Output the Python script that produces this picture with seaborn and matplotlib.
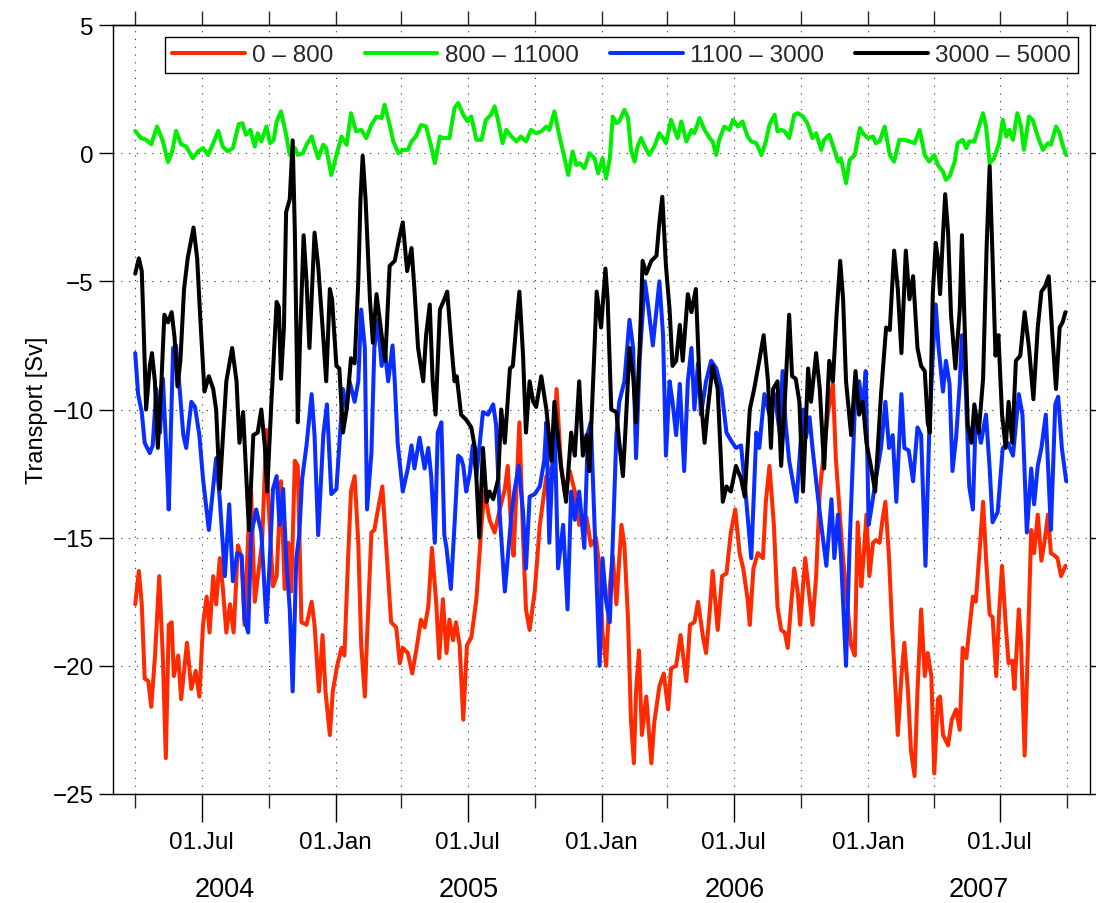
import numpy as np
import pandas as pd
import matplotlib
matplotlib.use("Agg")
import matplotlib.pyplot as plt
import matplotlib.dates as mdates
import seaborn as sns

# -----------------------------
# Data (days since 01.Apr.2004, transport in Sv)
# -----------------------------
start = pd.Timestamp("2004-04-01")

red_day = [0, 5, 9, 13, 18, 22, 27, 33, 38, 42, 46, 50, 53, 59, 63, 71, 77, 83, 88, 93,
           98, 102, 107, 111, 116, 120, 125, 130, 135, 141, 146, 150, 155, 159, 164, 170, 174, 180, 182, 189,
           194, 200, 205, 210, 214, 219, 223, 228, 235, 242, 246, 252, 257, 261, 267, 271, 277, 283, 287, 292,
           296, 301, 306, 310, 315, 318, 324, 328, 333, 339, 344, 351, 358, 363, 367, 374, 380, 386, 392, 397,
           402, 407, 413, 417, 422, 427, 431, 436, 440, 445, 450, 455, 461, 468, 475, 479, 486, 493, 500, 507,
           511, 516, 519, 527, 532, 536, 541, 548, 555, 564, 573, 578, 584, 589, 596, 603, 609, 619, 625, 632,
           637, 641, 646, 651, 655, 660, 667, 671, 676, 680, 684, 687, 691, 695, 701, 708, 712, 719, 725, 731,
           735, 742, 748, 756, 761, 767, 772, 779, 783, 788, 792, 799, 805, 811, 817, 823, 829, 834, 840, 843,
           848, 854, 861, 865, 870, 876, 881, 886, 891, 895, 900, 904, 909, 912, 916, 919, 924, 929, 934, 939,
           950, 957, 961, 970, 982, 987, 991, 996, 999, 1003, 1007, 1012, 1016, 1021, 1025, 1029, 1034, 1038, 1043, 1046,
           1051, 1055, 1060, 1064, 1069, 1073, 1078, 1083, 1087, 1092, 1096, 1101, 1104, 1108, 1115, 1120, 1126, 1131, 1135, 1140,
           1144, 1149, 1153, 1158, 1163, 1167, 1172, 1176, 1181, 1185, 1189, 1194, 1198, 1203, 1206, 1212, 1215, 1220, 1224, 1229,
           1233, 1238, 1243, 1247, 1252, 1256, 1261, 1265, 1270, 1276]
red_val = [-17.6, -16.3, -17.6, -20.5, -20.6, -21.6, -19.7, -16.5, -19.7, -23.6, -18.4, -18.3, -20.4, -19.6, -21.3, -19.1, -20.9, -20.2, -21.2, -18.4,
           -17.3, -18.7, -16.5, -17.6, -15.8, -16.9, -18.7, -17.6, -18.7, -15.3, -15.8, -18.4, -14.9, -13.2, -17.5, -16.1, -15.2, -10.8, -13.2, -16.9,
           -16.5, -12.8, -17.0, -15.2, -17.1, -12.0, -12.2, -18.3, -18.4, -17.5, -18.4, -21.0, -18.8, -21.0, -22.7, -21.0, -20.0, -19.3, -19.6, -15.8,
           -13.2, -12.6, -15.2, -19.2, -21.2, -18.9, -14.8, -14.7, -13.9, -13.0, -15.2, -18.3, -18.5, -19.9, -19.3, -19.5, -20.3, -19.3, -18.2, -18.5,
           -17.7, -15.4, -17.6, -19.7, -17.4, -19.5, -18.2, -19.0, -18.3, -19.2, -22.1, -19.2, -18.9, -17.4, -14.5, -13.2, -14.3, -14.8, -13.9, -13.1,
           -12.2, -14.8, -15.7, -10.5, -15.0, -17.8, -18.6, -17.1, -14.5, -12.6, -12.2, -9.2, -12.2, -13.2, -12.4, -13.2, -14.5, -14.2, -15.3, -15.0,
           -16.2, -18.7, -20.0, -16.9, -15.7, -17.6, -14.5, -15.3, -18.2, -22.1, -23.8, -21.0, -19.4, -22.7, -21.2, -23.8, -22.2, -20.8, -20.3, -21.7,
           -20.1, -20.0, -18.8, -20.6, -18.4, -18.3, -17.5, -18.9, -19.5, -17.9, -16.3, -18.6, -16.5, -16.4, -14.8, -13.9, -15.6, -16.2, -17.4, -18.4,
           -16.2, -15.6, -15.8, -13.6, -12.2, -14.5, -17.7, -18.6, -18.7, -19.3, -17.5, -16.2, -17.2, -18.4, -16.9, -15.8, -17.1, -18.4, -16.5, -13.2,
           -10.2, -9.0, -11.9, -15.5, -19.2, -19.6, -14.4, -16.9, -15.8, -14.1, -16.5, -15.2, -15.1, -15.2, -14.3, -13.6, -15.8, -18.4, -21.0, -22.7,
           -20.4, -19.1, -21.0, -23.3, -24.3, -21.0, -17.8, -20.4, -19.5, -20.4, -24.2, -21.3, -21.2, -22.7, -23.1, -22.1, -21.7, -22.5, -19.3, -19.7,
           -18.6, -17.3, -17.5, -15.6, -13.6, -15.8, -18.0, -18.1, -20.4, -17.9, -16.1, -18.4, -19.9, -19.8, -20.9, -17.8, -19.1, -23.5, -19.7, -14.7,
           -15.6, -14.1, -15.9, -15.2, -14.1, -15.6, -15.7, -15.8, -16.5, -16.1]

green_day = [0, 8, 15, 22, 30, 38, 45, 51, 56, 63, 70, 79, 86, 93, 100, 107, 114, 120, 127, 134,
             142, 147, 152, 158, 164, 168, 173, 180, 185, 190, 194, 200, 207, 212, 219, 223, 230, 235, 242, 246,
             251, 258, 262, 269, 276, 283, 290, 296, 303, 310, 317, 324, 331, 338, 342, 349, 354, 361, 367, 374,
             379, 385, 392, 399, 406, 411, 418, 422, 431, 438, 443, 450, 456, 461, 468, 475, 481, 488, 493, 497,
             504, 509, 516, 523, 529, 536, 543, 550, 557, 564, 568, 575, 582, 589, 594, 600, 605, 610, 616, 623,
             630, 635, 641, 646, 651, 655, 660, 664, 671, 676, 680, 685, 689, 694, 699, 705, 712, 719, 724, 728,
             735, 740, 744, 749, 756, 763, 767, 774, 781, 788, 792, 797, 801, 808, 815, 820, 827, 833, 840, 845,
             852, 859, 865, 870, 877, 881, 886, 891, 897, 904, 909, 916, 922, 929, 934, 941, 945, 952, 959, 964,
             968, 975, 980, 987, 994, 998, 1005, 1012, 1016, 1021, 1028, 1035, 1041, 1048, 1055, 1062, 1069, 1076, 1083, 1089,
             1096, 1101, 1108, 1112, 1117, 1124, 1128, 1135, 1140, 1144, 1151, 1158, 1163, 1167, 1172, 1178, 1185, 1190, 1195, 1199,
             1204, 1210, 1215, 1219, 1226, 1231, 1238, 1245, 1252, 1256, 1263, 1268, 1272, 1277]
green_val = [0.87, 0.59, 0.52, 0.35, 1.04, 0.46, -0.35, 0.10, 0.87, 0.35, 0.26, -0.20, 0.07, 0.20, -0.07, 0.39, 0.87, 0.26, 0.07, 0.20,
             1.13, 1.17, 0.72, 0.91, 0.26, 0.78, 0.46, 1.04, 0.39, 0.52, 1.24, 1.63, 0.72, -0.07, 0.20, -0.07, 0.00, 0.33, 0.65, 0.26,
             -0.20, 0.33, 0.20, -0.85, -0.07, 0.65, 0.33, 1.56, 0.85, 0.91, 0.59, 1.11, 1.43, 1.37, 1.89, 1.11, 0.46, 0.00, 0.13, 0.13,
             0.46, 0.65, 1.10, 1.04, 0.26, -0.39, 0.65, 0.59, 0.59, 1.76, 1.96, 1.50, 1.24, 1.43, 0.52, 0.52, 1.30, 1.50, 1.83, 1.37,
             0.39, 0.91, 0.65, 0.46, 0.65, 0.46, 0.91, 0.78, 0.85, 1.04, 0.91, 1.63, 0.65, -0.20, -0.85, 0.07, -0.46, -0.39, -0.59, 0.00,
             -0.20, -0.78, -0.20, -0.98, -0.20, 1.43, 1.17, 1.24, 1.69, 1.37, 0.13, -0.33, 0.26, 0.59, 0.26, -0.07, 0.26, 0.78, 0.59, 0.39,
             1.30, 0.91, 0.59, 1.24, 0.46, 0.91, 0.78, 1.37, 0.91, 0.59, 0.46, -0.07, 0.52, 1.04, 0.91, 1.30, 1.04, 1.24, 0.65, 0.46,
             0.39, -0.07, 0.46, 1.11, 1.50, 0.85, 0.91, 0.85, 0.59, 1.50, 1.56, 1.43, 1.17, 0.59, 0.78, 0.13, 0.52, 0.72, 0.13, -0.33,
             -0.20, -1.17, -0.26, -0.07, 0.98, 0.78, 0.59, 0.65, 0.39, 0.46, 1.04, -0.07, -0.33, 0.52, 0.52, 0.46, 0.39, 0.91, -0.07, -0.33,
             -0.07, -0.46, -0.72, -1.04, -0.91, -0.33, 0.39, 0.52, 0.20, 0.46, 0.46, 1.11, 1.56, 1.04, -0.39, -0.20, 0.39, 1.30, 0.65, 0.91,
             0.52, 1.56, 1.04, 0.13, 1.43, 1.30, 0.65, 0.13, 0.39, 0.33, 1.04, 0.78, 0.33, -0.07]

blue_day = [0, 4, 9, 13, 20, 24, 29, 34, 38, 43, 46, 52, 56, 61, 66, 70, 77, 82, 88, 93,
            101, 107, 111, 116, 123, 129, 134, 140, 146, 150, 155, 159, 166, 173, 180, 184, 189, 194, 198, 203,
            207, 212, 216, 221, 225, 229, 235, 242, 246, 251, 258, 263, 269, 276, 285, 290, 294, 301, 306, 310,
            315, 318, 324, 328, 333, 338, 342, 347, 353, 356, 360, 367, 374, 379, 383, 390, 397, 402, 406, 411,
            415, 420, 424, 427, 433, 438, 443, 447, 450, 454, 459, 463, 468, 477, 484, 491, 495, 500, 507, 511,
            516, 520, 526, 532, 536, 541, 548, 555, 561, 564, 568, 575, 580, 587, 593, 598, 603, 609, 616, 621,
            625, 630, 637, 641, 646, 651, 655, 660, 664, 671, 678, 683, 687, 692, 699, 703, 710, 715, 719, 724,
            728, 733, 737, 742, 747, 753, 758, 763, 767, 772, 776, 783, 790, 797, 804, 811, 817, 824, 831, 838,
            845, 852, 856, 863, 870, 877, 884, 888, 892, 897, 907, 916, 920, 925, 929, 936, 941, 948, 955, 959,
            964, 968, 975, 980, 987, 993, 998, 1002, 1006, 1009, 1016, 1023, 1029, 1034, 1039, 1044, 1051, 1055, 1061, 1067,
            1073, 1078, 1084, 1089, 1094, 1098, 1102, 1108, 1112, 1117, 1121, 1126, 1131, 1134, 1139, 1144, 1149, 1153, 1160, 1167,
            1172, 1176, 1183, 1190, 1197, 1204, 1212, 1217, 1223, 1229, 1233, 1238, 1243, 1249, 1256, 1262, 1266, 1271, 1277]
blue_val = [-7.8, -9.4, -10.1, -11.3, -11.7, -11.4, -9.2, -10.9, -8.8, -11.8, -13.9, -7.6, -7.5, -9.2, -11.0, -11.5, -9.7, -9.9, -11.0, -12.7,
            -14.7, -13.0, -11.9, -13.5, -16.5, -13.7, -16.7, -15.6, -15.7, -18.2, -18.7, -14.9, -13.9, -14.8, -18.3, -16.2, -13.1, -12.6, -14.5, -13.1,
            -15.8, -17.8, -21.0, -15.8, -14.9, -12.7, -11.4, -9.4, -11.0, -14.9, -11.0, -9.8, -13.3, -13.1, -9.2, -10.0, -8.9, -9.7, -8.9, -6.1,
            -7.6, -13.9, -11.7, -7.6, -6.5, -8.3, -7.6, -8.9, -7.5, -8.9, -11.3, -13.2, -12.3, -11.4, -12.3, -11.1, -12.3, -11.5, -12.6, -15.2,
            -10.9, -10.5, -14.9, -15.4, -17.0, -14.5, -11.8, -11.9, -12.2, -13.2, -12.5, -11.4, -12.6, -10.1, -10.2, -9.8, -10.6, -14.1, -17.1, -15.8,
            -14.1, -13.2, -12.2, -14.0, -16.2, -13.4, -13.3, -13.0, -12.0, -10.5, -15.2, -10.2, -16.2, -14.5, -17.8, -13.2, -14.3, -13.2, -15.4, -10.9,
            -10.5, -14.5, -20.0, -15.8, -17.5, -18.3, -15.2, -11.0, -9.7, -8.9, -6.5, -7.6, -11.9, -8.0, -5.0, -5.8, -7.5, -6.1, -5.0, -7.1,
            -11.8, -8.9, -9.7, -11.0, -9.0, -12.4, -8.9, -7.6, -10.0, -8.2, -10.2, -8.9, -8.1, -8.4, -9.2, -10.9, -11.2, -11.5, -11.4, -13.5,
            -15.8, -10.9, -11.5, -9.4, -10.2, -9.4, -10.9, -8.5, -10.5, -12.0, -13.6, -10.0, -11.1, -10.3, -11.5, -13.3, -14.5, -16.1, -13.5, -15.8,
            -14.1, -15.7, -20.0, -15.2, -10.0, -8.9, -10.0, -8.5, -14.5, -14.0, -12.7, -11.5, -9.7, -11.5, -11.0, -13.6, -9.4, -11.5, -11.6, -12.8,
            -10.7, -11.0, -16.1, -11.0, -7.9, -5.9, -7.6, -9.3, -8.1, -9.0, -12.4, -11.1, -9.0, -7.1, -9.0, -13.0, -13.9, -10.2, -11.3, -10.2,
            -12.3, -14.4, -14.0, -11.5, -11.3, -11.8, -9.4, -10.2, -14.8, -12.3, -13.7, -12.2, -11.5, -10.2, -14.7, -9.8, -9.5, -11.5, -12.8]

black_day = [0, 5, 9, 11, 15, 20, 23, 27, 31, 36, 40, 45, 50, 54, 58, 62, 67, 72, 80, 85,
             89, 95, 101, 107, 111, 116, 125, 133, 139, 143, 148, 156, 162, 168, 173, 178, 181, 187, 194, 197,
             200, 204, 207, 212, 216, 219, 223, 226, 231, 235, 239, 246, 251, 258, 262, 267, 270, 276, 280, 285,
             290, 296, 301, 306, 309, 312, 316, 322, 326, 331, 338, 343, 349, 356, 363, 367, 373, 379, 383, 388,
             395, 399, 404, 408, 412, 418, 424, 428, 434, 438, 441, 447, 454, 461, 466, 472, 477, 482, 486, 491,
             498, 502, 507, 514, 518, 523, 527, 532, 536, 541, 546, 550, 557, 564, 571, 575, 580, 584, 591, 598,
             603, 609, 614, 619, 623, 630, 633, 639, 645, 648, 653, 660, 664, 669, 673, 678, 683, 687, 692, 696,
             701, 708, 715, 719, 723, 728, 733, 737, 742, 747, 751, 758, 763, 769, 774, 781, 785, 792, 799, 806,
             811, 817, 824, 831, 836, 843, 849, 856, 862, 868, 872, 875, 881, 886, 891, 897, 901, 906, 911, 916,
             923, 927, 934, 939, 945, 952, 957, 962, 967, 971, 975, 982, 988, 993, 998, 1003, 1009, 1015, 1023, 1030,
             1035, 1041, 1046, 1051, 1057, 1062, 1067, 1073, 1078, 1083, 1087, 1090, 1094, 1098, 1101, 1104, 1108, 1111, 1115, 1119,
             1125, 1131, 1134, 1137, 1142, 1147, 1151, 1157, 1163, 1168, 1172, 1176, 1180, 1184, 1189, 1194, 1198, 1203, 1208, 1214,
             1220, 1226, 1232, 1238, 1243, 1248, 1253, 1258, 1263, 1268, 1272, 1276]
black_val = [-4.7, -4.1, -4.6, -6.3, -10.0, -8.3, -7.8, -8.9, -11.5, -8.9, -6.3, -6.6, -6.2, -7.2, -9.1, -8.1, -5.3, -4.1, -2.9, -4.1,
             -6.3, -9.3, -8.7, -9.2, -10.0, -13.1, -8.9, -7.6, -8.9, -11.3, -10.1, -14.7, -11.0, -10.9, -10.0, -11.5, -13.2, -9.6, -5.8, -6.0,
             -8.8, -6.8, -2.3, -1.8, 0.5, -3.1, -10.5, -7.4, -3.2, -5.0, -7.6, -3.1, -4.4, -7.2, -8.9, -5.3, -5.7, -8.3, -8.4, -10.9,
             -10.0, -8.0, -8.2, -5.0, -1.8, -0.1, -1.8, -5.7, -7.4, -5.5, -7.1, -8.1, -4.4, -4.2, -3.2, -2.7, -4.6, -3.7, -5.3, -7.6,
             -8.9, -7.1, -5.9, -8.9, -10.2, -6.1, -5.7, -5.4, -7.6, -8.9, -8.7, -10.2, -10.4, -10.7, -11.5, -15.0, -11.5, -13.6, -13.2, -13.5,
             -12.7, -10.0, -11.3, -8.4, -8.3, -6.6, -5.4, -7.9, -10.9, -8.9, -9.7, -9.9, -8.7, -10.0, -12.0, -9.7, -11.1, -12.2, -13.6, -10.9,
             -11.8, -8.9, -11.8, -11.0, -12.4, -7.6, -5.4, -6.8, -4.5, -5.7, -10.0, -10.1, -11.3, -12.6, -10.5, -7.6, -8.7, -10.5, -7.6, -4.2,
             -4.7, -4.2, -4.0, -2.7, -1.7, -4.4, -6.1, -8.3, -8.1, -6.7, -8.1, -5.5, -6.2, -5.3, -8.9, -11.3, -10.1, -8.3, -9.2, -13.6,
             -13.0, -13.2, -12.2, -12.7, -13.4, -10.0, -9.2, -8.1, -7.1, -8.9, -11.5, -9.2, -8.9, -12.2, -9.7, -6.3, -8.7, -8.8, -9.7, -13.2,
             -8.4, -9.7, -7.8, -9.2, -12.3, -8.1, -8.9, -6.3, -4.2, -5.7, -8.9, -11.0, -8.5, -10.2, -9.7, -11.3, -12.2, -13.2, -9.4, -6.8,
             -6.9, -3.8, -5.3, -7.8, -3.8, -5.7, -4.8, -7.6, -8.3, -8.5, -10.5, -10.9, -5.5, -3.5, -4.1, -5.5, -3.2, -1.6, -3.1, -6.3,
             -8.4, -6.1, -3.2, -6.1, -10.6, -11.3, -9.8, -10.9, -8.8, -3.5, -0.5, -4.1, -7.9, -7.1, -10.2, -11.5, -9.7, -11.3, -8.1, -7.9,
             -6.2, -7.6, -9.6, -6.8, -5.4, -5.2, -4.8, -7.1, -9.2, -6.8, -6.6, -6.2]

labels = ["0 \u2013 800", "800 \u2013 11000", "1100 \u2013 3000", "3000 \u2013 5000"]
colors = ["#ff2a00", "#00ee00", "#0a2eff", "#000000"]
years = [2004, 2005, 2006, 2007]

x_start = pd.Timestamp("2004-03-02")
x_end = pd.Timestamp("2007-11-01")

# -----------------------------
# Figure
# -----------------------------
sns.set_theme(style="white")
plt.rcParams["font.family"] = ["Liberation Sans", "DejaVu Sans"]

fig = plt.figure(figsize=(10.96, 9.04), dpi=100)
ax = fig.add_axes([0.1034, 0.1206, 0.8907, 0.8506])

series = [(red_day, red_val), (green_day, green_val), (blue_day, blue_val), (black_day, black_val)]
for (d, v), lab, col in zip(series, labels, colors):
    dates = start + pd.to_timedelta(np.array(d), unit="D")
    sns.lineplot(x=dates, y=v, color=col, linewidth=2.9, label=lab, ax=ax, legend=False,
                 solid_joinstyle="round", solid_capstyle="round")

ax.set_xlim(x_start, x_end)
ax.set_ylim(-25, 5)
ax.set_yticks(np.arange(-25, 6, 5))

ax.xaxis.set_major_locator(mdates.MonthLocator(bymonth=[1, 7]))
ax.xaxis.set_major_formatter(mdates.DateFormatter("%d.%b"))
ax.xaxis.set_minor_locator(mdates.MonthLocator(bymonth=[4, 10]))

ax.tick_params(axis="x", which="major", direction="out", length=20, width=1, pad=7,
               labelsize=17.5, colors="black", bottom=True)
ax.tick_params(axis="x", which="minor", direction="out", length=10, width=1, bottom=True)
ax.tick_params(axis="y", which="major", direction="out", length=10, width=1, pad=4,
               labelsize=17.5, left=True, right=True, colors="black")

top = ax.secondary_xaxis("top")
top.xaxis.set_major_locator(mdates.MonthLocator(bymonth=[1, 4, 7, 10]))
top.tick_params(direction="out", length=10, width=1, labeltop=False, top=True)
top.spines["top"].set_linewidth(1)
top.spines["top"].set_color("black")

grid_kw = dict(color="0.2", linewidth=0.8, linestyle=(0, (1, 6)))
ax.grid(True, axis="x", which="both", **grid_kw)
ax.grid(True, axis="y", which="major", **grid_kw)
ax.set_axisbelow(True)

for s in ax.spines.values():
    s.set_visible(True)
    s.set_color("black")
    s.set_linewidth(1)

ax.set_xlabel("")
ax.set_ylabel("Transport [Sv]", fontsize=17, color="black")
ax.yaxis.set_label_coords(-0.067, 0.5)

# year labels centred under the visible part of each year
trans = matplotlib.transforms.blended_transform_factory(ax.transData, ax.transAxes)
for yr in years:
    a = max(pd.Timestamp(f"{yr}-01-01"), x_start)
    b = min(pd.Timestamp(f"{yr + 1}-01-01"), x_end)
    mid = a + (b - a) / 2
    ax.text(mdates.date2num(mid), -0.1326, str(yr), transform=trans,
            ha="center", va="baseline", fontsize=19.5, color="black")

leg = ax.legend(loc="upper left", bbox_to_anchor=(0.0527, 0.9289, 0.9356, 0.0559),
                mode="expand", ncol=4, fontsize=17.5, frameon=True, fancybox=False,
                framealpha=1, edgecolor="black", borderaxespad=0, handlelength=3.0,
                handletextpad=0.3, borderpad=0.3, columnspacing=0.4)
leg.get_frame().set_linewidth(1)

fig.savefig("out.png", dpi=100)
